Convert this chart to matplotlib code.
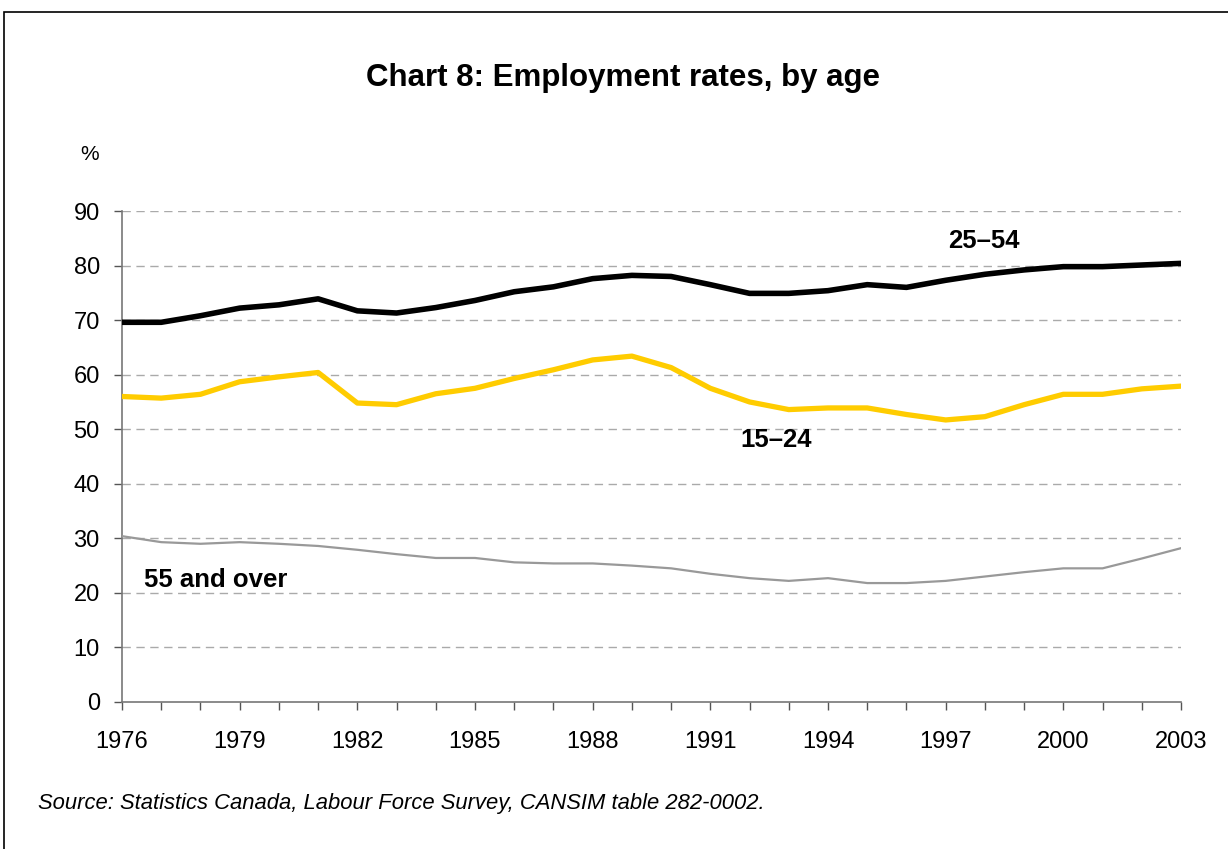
import matplotlib
matplotlib.use("Agg")
import matplotlib.pyplot as plt
from matplotlib.patches import Rectangle

plt.rcParams['font.family'] = ['Liberation Sans', 'DejaVu Sans']

years = list(range(1976, 2004))
age_25_54 = [69.6, 69.6, 70.8, 72.2, 72.8, 73.9, 71.7, 71.3, 72.3, 73.6,
             75.2, 76.1, 77.6, 78.2, 78.0, 76.5, 74.9, 74.9, 75.4, 76.5,
             76.0, 77.3, 78.4, 79.2, 79.8, 79.8, 80.1, 80.4]
age_15_24 = [56.0, 55.7, 56.4, 58.7, 59.6, 60.4, 54.8, 54.5, 56.5, 57.5,
             59.3, 60.9, 62.7, 63.4, 61.3, 57.5, 55.0, 53.6, 53.9, 53.9,
             52.7, 51.7, 52.3, 54.5, 56.4, 56.4, 57.4, 57.9]
age_55_over = [30.4, 29.3, 29.0, 29.3, 29.0, 28.6, 27.9, 27.1, 26.4, 26.4,
               25.6, 25.4, 25.4, 25.0, 24.5, 23.5, 22.7, 22.2, 22.7, 21.8,
               21.8, 22.2, 23.0, 23.8, 24.5, 24.5, 26.3, 28.2]
year_labels = list(range(1976, 2004, 3))
y_ticks = list(range(0, 100, 10))

W, H = 1228, 849
fig = plt.figure(figsize=(W / 100, H / 100), dpi=100)
fig.patch.set_facecolor('white')

# outer frame of the chart box
fig.patches.append(Rectangle((4 / W, -0.05), 1.2, 1 - 12 / H + 0.05,
                             transform=fig.transFigure, fill=False,
                             edgecolor='black', linewidth=1.2))

ax = fig.add_axes([122 / W, 1 - 702 / H, (1181 - 122) / W, (702 - 211) / H])
ax.set_xlim(1976, 2003)
ax.set_ylim(0, 90)

ax.plot(years, age_55_over, color='#999999', linewidth=1.6, solid_joinstyle='round', zorder=3)
ax.plot(years, age_15_24, color='#FFCC00', linewidth=3.8, solid_joinstyle='round',
        solid_capstyle='round', zorder=4)
ax.plot(years, age_25_54, color='black', linewidth=4.0, solid_joinstyle='round',
        solid_capstyle='round', zorder=5)

for v in y_ticks[1:]:
    ax.axhline(v, color='#aaaaaa', linewidth=1.0, dashes=(6, 4), zorder=1)

for s in ['top', 'right']:
    ax.spines[s].set_visible(False)
for s in ['left', 'bottom']:
    ax.spines[s].set_color('#777777')
    ax.spines[s].set_linewidth(1.2)

ax.set_yticks(y_ticks)
ax.set_xticks(year_labels)
ax.set_xticks(years, minor=True)
ax.tick_params(axis='both', which='both', direction='out', color='#555555',
               length=6, width=1.0, labelsize=17)
ax.tick_params(axis='x', which='major', pad=15)
ax.tick_params(axis='y', which='major', pad=10)

ax.text(1997.06, 84.5, '25–54', fontsize=18.5, fontweight='bold', ha='left', va='center')
ax.text(1991.76, 48.0, '15–24', fontsize=18.5, fontweight='bold', ha='left', va='center')
ax.text(1976.56, 22.4, '55 and over', fontsize=18.5, fontweight='bold', ha='left', va='center')

fig.text(623 / W, 1 - 78 / H, 'Chart 8: Employment rates, by age', fontsize=22.5,
         fontweight='bold', ha='center', va='center')
fig.text(80 / W, 1 - 155 / H, '%', fontsize=15, ha='left', va='center')
fig.text(38 / W, 1 - 803 / H,
         'Source: Statistics Canada, Labour Force Survey, CANSIM table 282-0002.',
         fontsize=15.8, style='italic', ha='left', va='center')

fig.savefig('out.png', dpi=100)
